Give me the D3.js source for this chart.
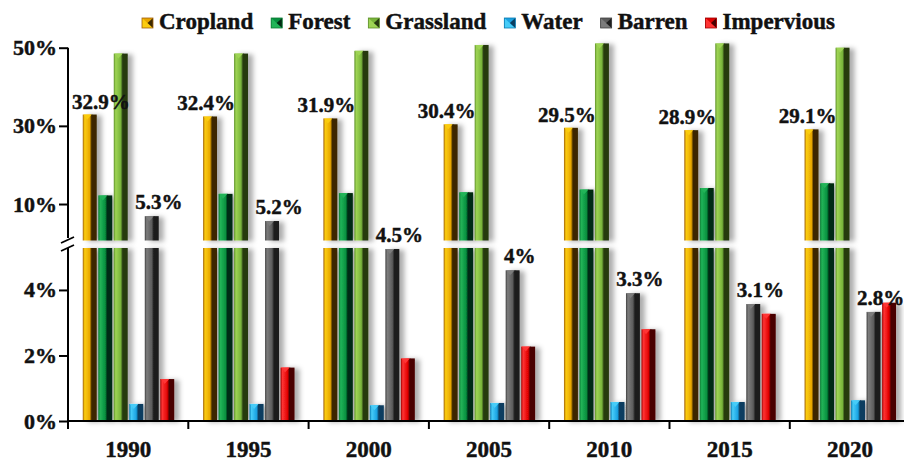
<!DOCTYPE html>
<html><head><meta charset="utf-8">
<script src="https://cdn.jsdelivr.net/npm/d3@7"></script>
<style>
body{margin:0;background:#fff;}
svg{display:block;}
text{font-family:"Liberation Serif","Times New Roman",serif;font-weight:bold;fill:#111;stroke:#111;stroke-width:0.45px;}
</style>
</head><body><svg id="c" width="904" height="461"></svg>
<script>
// ---- data ----
const years = ["1990","1995","2000","2005","2010","2015","2020"];
const series = ["Cropland","Forest","Grassland","Water","Barren","Impervious"];
const cropland   = [32.9, 32.4, 31.9, 30.4, 29.5, 28.9, 29.1];
const forest     = [12.2, 12.6, 12.8, 13.0, 13.7, 14.1, 15.3];
const grassland  = [48.5, 48.5, 49.2, 50.7, 51.1, 51.1, 50.0];
const water      = [0.52, 0.52, 0.48, 0.55, 0.58, 0.58, 0.63];
const barren     = [6.9, 5.65, 5.25, 4.6, 3.9, 3.57, 3.33];
const impervious = [1.28, 1.63, 1.91, 2.27, 2.8, 3.27, 3.61];
const croplandLabels = ["32.9%","32.4%","31.9%","30.4%","29.5%","28.9%","29.1%"];
const barrenLabels   = ["5.3%","5.2%","4.5%","4%","3.3%","3.1%","2.8%"];
const topTicks = [10, 30, 50];
const bottomTicks = [0, 2, 4];

const values = [cropland, forest, grassland, water, barren, impervious];
const palette = [
  {edge:"#a0600c", light:"#fbcc10", base:"#e8a600", dark:"#3c2800"},
  {edge:"#0b7a34", light:"#22b458", base:"#07903f", dark:"#022a12"},
  {edge:"#5e902a", light:"#9ed454", base:"#78b43a", dark:"#263a10"},
  {edge:"#0a7ab0", light:"#46ccf8", base:"#1aa2e2", dark:"#0a3e60"},
  {edge:"#404040", light:"#7c7c7c", base:"#5c5c5c", dark:"#1e1e1e"},
  {edge:"#a00000", light:"#ff3434", base:"#e00000", dark:"#4a0000"}
];

// ---- layout ----
const svg = d3.select("#c");
const axisX = 68;
const x = d3.scaleBand().domain(years).range([68, 68 + 7 * 120.3]).padding(0);
const xs = d3.scaleBand().domain(series).range([14, 107]).paddingInner(0.1).paddingOuter(0.05);
const yT = d3.scaleLinear().domain([0, 50]).range([243.1, 47.7]);
const yB = d3.scaleLinear().domain([0, 5.28]).range([421, 248]);
const topPanelBottom = 240.5;
const bMax = yB.domain()[1];

// ---- defs ----
const defs = svg.append("defs");
palette.forEach((p, i) => {
  const g = defs.append("linearGradient").attr("id", "g" + i).attr("x1", "0").attr("x2", "1").attr("y1", "0").attr("y2", "0");
  [[0, p.edge], [0.14, p.light], [0.5, p.base], [0.64, p.dark], [1, p.dark]].forEach(s =>
    g.append("stop").attr("offset", s[0]).attr("stop-color", s[1]));
});
const f = defs.append("filter").attr("id", "sh").attr("x", "-20%").attr("y", "-10%").attr("width", "180%").attr("height", "120%");
f.append("feDropShadow").attr("dx", 5).attr("dy", 1).attr("stdDeviation", 2.6)
  .attr("flood-color", "#000").attr("flood-opacity", 0.32);

// ---- bars ----
const gTop = svg.append("g").attr("filter", "url(#sh)");
const gBot = svg.append("g").attr("filter", "url(#sh)");

function bar(g, i, x0, w, yTop, yBot) {
  g.append("rect").attr("x", x0).attr("y", yTop).attr("width", w).attr("height", Math.max(0, yBot - yTop))
    .attr("fill", `url(#g${i})`);
}
function cap(g, i, x0, w, yTop) {
  const p = palette[i];
  g.append("path")
    .attr("d", `M${x0 + 0.5},${yTop} L${x0 + w * 0.64},${yTop} L${x0 + w * 0.32},${yTop + 5} Z`)
    .attr("fill", p.light);
  g.append("path")
    .attr("d", `M${x0 + w * 0.64},${yTop} L${x0 + w},${yTop + 2} L${x0 + w * 0.64},${yTop + 4} Z`)
    .attr("fill", p.dark);
}

years.forEach((yr, j) => {
  series.forEach((s, i) => {
    const v = values[i][j];
    const x0 = x(yr) + xs(s);
    const w = xs.bandwidth();
    const yb = yB(Math.min(v, bMax));
    bar(gBot, i, x0, w, yb, yB(0));
    if (v <= bMax) cap(gBot, i, x0, w, yb);
    if (v > bMax) {
      const yt = yT(v);
      bar(gTop, i, x0, w, yt, topPanelBottom);
      cap(gTop, i, x0, w, yt);
    }
  });
});

// ---- axes ----
const axG = svg.append("g");
axG.append("line").attr("x1", axisX).attr("x2", axisX).attr("y1", yT(50)).attr("y2", 238).attr("stroke", "#000").attr("stroke-width", 2);
axG.append("line").attr("x1", axisX).attr("x2", axisX).attr("y1", 248).attr("y2", yB(0)).attr("stroke", "#000").attr("stroke-width", 2);
axG.append("line").attr("x1", 61).attr("y1", 243).attr("x2", 74).attr("y2", 237).attr("stroke", "#000").attr("stroke-width", 1.8);
axG.append("line").attr("x1", 61).attr("y1", 251).attr("x2", 74).attr("y2", 245).attr("stroke", "#000").attr("stroke-width", 1.8);

function styleAxis(g) {
  g.select(".domain").remove();
  g.selectAll(".tick line").attr("stroke", "#000").attr("stroke-width", 2);
  g.selectAll(".tick text").attr("font-size", 22);
}
svg.append("g").attr("transform", `translate(${axisX},0)`)
  .call(d3.axisLeft(yT).tickValues(topTicks).tickSize(9).tickPadding(2).tickFormat(d => d + "%"))
  .call(styleAxis);
svg.append("g").attr("transform", `translate(${axisX},0)`)
  .call(d3.axisLeft(yB).tickValues(bottomTicks).tickSize(9).tickPadding(2).tickFormat(d => d + "%"))
  .call(styleAxis);

// x axis
axG.append("line").attr("x1", axisX - 1).attr("x2", 904).attr("y1", yB(0)).attr("y2", yB(0)).attr("stroke", "#000").attr("stroke-width", 2);
const bounds = years.map(y => x(y)).concat([x.range()[1]]);
axG.selectAll(".xt").data(bounds).join("line")
  .attr("x1", d => d).attr("x2", d => d).attr("y1", yB(0)).attr("y2", yB(0) + 8)
  .attr("stroke", "#000").attr("stroke-width", 2);
const xAx = svg.append("g").attr("transform", `translate(0,${yB(0)})`)
  .call(d3.axisBottom(x).tickSize(0).tickPadding(22));
xAx.select(".domain").remove();
xAx.selectAll(".tick text").attr("font-size", 23).attr("dy", "0.6em");

// ---- value labels ----
const lblG = svg.append("g");
years.forEach((yr, j) => {
  const cx = x(yr) + xs("Cropland") + xs.bandwidth() / 2 - 4;
  const t = lblG.append("text").attr("font-size", 21).attr("text-anchor", "middle")
    .attr("x", cx).attr("y", yT(cropland[j]) - 6).text(croplandLabels[j]);
  const wl = t.node().getComputedTextLength();
  if (cx - wl / 2 < axisX + 4) t.attr("x", axisX + 4 + wl / 2);

  const v = barren[j];
  const ty = v > bMax ? yT(v) : yB(v);
  lblG.append("text").attr("font-size", 21).attr("text-anchor", "middle")
    .attr("x", x(yr) + xs("Barren") + xs.bandwidth() / 2 + 7).attr("y", ty - 7).text(barrenLabels[j]);
});

// ---- legend ----
const leg = svg.append("g");
let lx = 142;
series.forEach((s, i) => {
  const p = palette[i];
  const gi = leg.append("g").attr("transform", `translate(${lx},18)`);
  gi.append("rect").attr("width", 11).attr("height", 10).attr("fill", p.base);
  gi.append("path").attr("d", "M0,0 L11,10 L0,10 Z").attr("fill", p.light);
  gi.append("path").attr("d", "M11,0 L11,10 L5.5,5 Z").attr("fill", p.dark);
  gi.append("rect").attr("width", 11).attr("height", 10).attr("fill", "none").attr("stroke", p.edge).attr("stroke-width", 0.8);
  const t = leg.append("text").attr("x", lx + 17).attr("y", 29).attr("font-size", 23).text(s);
  lx += 17 + t.node().getComputedTextLength() + 18;
});
</script>
</body></html>
